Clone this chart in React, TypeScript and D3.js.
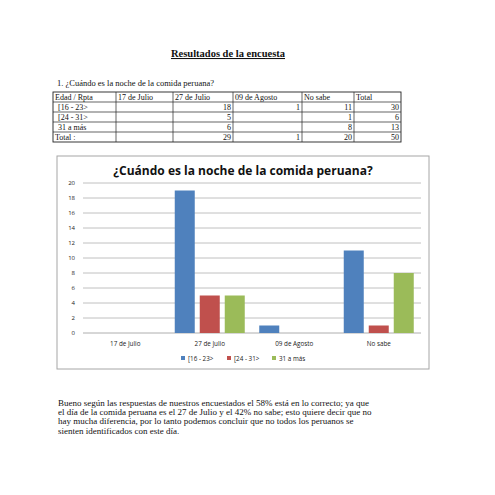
import { useRef, useEffect } from 'react';
import * as d3 from 'd3';

const categories = ['17 de Julio', '27 de Julio', '09 de Agosto', 'No sabe'];
const seriesNames = ['[16 - 23>', '[24 - 31>', '31 a más'];
const seriesColors = ['#4f81bd', '#c0504d', '#9bbb59'];
const values16to23 = [0, 19, 1, 11];
const values24to31 = [0, 5, 0, 1];
const values31plus = [0, 5, 0, 8];
const yTicks = [0, 2, 4, 6, 8, 10, 12, 14, 16, 18, 20];

const tableHeader = ['Edad / Rpta', '17 de Julio', '27 de Julio', '09 de Agosto', 'No sabe', 'Total'];
const tableRows = [
  ['[16 - 23>', '', '18', '1', '11', '30'],
  ['[24 - 31>', '', '5', '', '1', '6'],
  ['31 a más', '', '6', '', '8', '13'],
  ['Total :', '', '29', '1', '20', '50'],
];
const tableCols = [53, 116, 173, 233, 302, 354, 401];

const paragraph = [
  'Bueno según las respuestas de nuestros encuestados el 58% está en lo correcto; ya que',
  'el día de la comida peruana es el 27 de Julio y el 42% no sabe; esto quiere decir que no',
  'hay mucha diferencia, por lo tanto podemos concluir que no todos los peruanos se',
  'sienten identificados con este día.',
];

const W = 495;
const H = 495;
const SERIF = '"Liberation Serif", "Times New Roman", serif';
const SANS = '"Open Sans", "DejaVu Sans", sans-serif';

// chart box + plot area
const BOX = { x: 57, y: 156, w: 372, h: 213 };
const P = { left: 83, right: 421, top: 183, bottom: 333 };

export default function App() {
  const svgRef = useRef<SVGSVGElement>(null);

  useEffect(() => {
    const svg = d3.select(svgRef.current);
    svg.selectAll('*').remove();

    svg.append('rect').attr('width', W).attr('height', H).attr('fill', '#ffffff');

    // Page title (underlined)
    svg
      .append('text')
      .attr('x', 228)
      .attr('y', 57)
      .attr('text-anchor', 'middle')
      .attr('font-family', SERIF)
      .attr('font-size', 10.5)
      .attr('font-weight', 700)
      .attr('fill', '#111')
      .attr('text-decoration', 'underline')
      .text('Resultados de la encuesta');

    svg
      .append('text')
      .attr('x', 57)
      .attr('y', 86)
      .attr('font-family', SERIF)
      .attr('font-size', 8.5)
      .attr('fill', '#111')
      .text('1. ¿Cuándo es la noche de la comida peruana?');

    // Table
    const rowH = 10;
    const tTop = 92;
    const allRows = [tableHeader, ...tableRows];
    const tBottom = tTop + rowH * allRows.length;
    svg
      .append('rect')
      .attr('x', tableCols[0])
      .attr('y', tTop)
      .attr('width', tableCols[tableCols.length - 1] - tableCols[0])
      .attr('height', tBottom - tTop)
      .attr('fill', 'none')
      .attr('stroke', '#222')
      .attr('stroke-width', 0.9);
    allRows.forEach((_, i) => {
      if (i === 0) return;
      svg
        .append('line')
        .attr('x1', tableCols[0])
        .attr('x2', tableCols[tableCols.length - 1])
        .attr('y1', tTop + i * rowH)
        .attr('y2', tTop + i * rowH)
        .attr('stroke', '#222')
        .attr('stroke-width', 0.7);
    });
    tableCols.slice(1, -1).forEach((cx) => {
      svg
        .append('line')
        .attr('x1', cx)
        .attr('x2', cx)
        .attr('y1', tTop)
        .attr('y2', tBottom)
        .attr('stroke', '#222')
        .attr('stroke-width', 0.7);
    });
    allRows.forEach((row, i) => {
      row.forEach((cell, j) => {
        if (!cell) return;
        const right = i > 0 && j > 0;
        const indent = i > 0 && i < allRows.length - 1 && j === 0 ? 5 : 2;
        svg
          .append('text')
          .attr('x', right ? tableCols[j + 1] - 2 : tableCols[j] + indent)
          .attr('y', tTop + i * rowH + 7.8)
          .attr('text-anchor', right ? 'end' : 'start')
          .attr('font-family', SERIF)
          .attr('font-size', 8)
          .attr('fill', '#111')
          .text(cell);
      });
    });

    // Chart box
    svg
      .append('rect')
      .attr('x', BOX.x)
      .attr('y', BOX.y)
      .attr('width', BOX.w)
      .attr('height', BOX.h)
      .attr('fill', '#fff')
      .attr('stroke', '#a6a6a6')
      .attr('stroke-width', 1);

    svg
      .append('text')
      .attr('x', BOX.x + BOX.w / 2)
      .attr('y', 175)
      .attr('text-anchor', 'middle')
      .attr('font-family', SANS)
      .attr('font-size', 12)
      .attr('font-weight', 700)
      .attr('fill', '#111')
      .text('¿Cuándo es la noche de la comida peruana?');

    const y = d3.scaleLinear().domain([0, 20]).range([P.bottom, P.top]);
    const x0 = d3.scaleBand().domain(categories).range([P.left, P.right]);
    const x1 = d3
      .scaleBand()
      .domain(seriesNames)
      .range([7.25, x0.bandwidth() - 7.25])
      .paddingInner(0.2);

    yTicks.forEach((t) => {
      svg
        .append('line')
        .attr('x1', P.left)
        .attr('x2', P.right)
        .attr('y1', y(t))
        .attr('y2', y(t))
        .attr('stroke', t === 0 ? '#9a9a9a' : '#b0b0b0')
        .attr('stroke-width', 0.8);
      svg
        .append('text')
        .attr('x', 75)
        .attr('y', y(t) + 2)
        .attr('text-anchor', 'end')
        .attr('font-family', SANS)
        .attr('font-size', 6)
        .attr('fill', '#222')
        .text(t);
    });

    const seriesValues = [values16to23, values24to31, values31plus];
    seriesValues.forEach((vals, s) => {
      vals.forEach((v, c) => {
        if (!v) return;
        svg
          .append('rect')
          .attr('x', x0(categories[c])! + x1(seriesNames[s])!)
          .attr('y', y(v))
          .attr('width', x1.bandwidth())
          .attr('height', y(0) - y(v))
          .attr('fill', seriesColors[s]);
      });
    });

    categories.forEach((c) => {
      svg
        .append('text')
        .attr('x', x0(c)! + x0.bandwidth() / 2)
        .attr('y', 346)
        .attr('text-anchor', 'middle')
        .attr('font-family', SANS)
        .attr('font-size', 6.3)
        .attr('fill', '#222')
        .text(c);
    });

    // Legend
    const legendX = [181, 227, 272];
    seriesNames.forEach((name, i) => {
      svg
        .append('rect')
        .attr('x', legendX[i])
        .attr('y', 356)
        .attr('width', 4)
        .attr('height', 4)
        .attr('fill', seriesColors[i]);
      svg
        .append('text')
        .attr('x', legendX[i] + 7)
        .attr('y', 360.5)
        .attr('font-family', SANS)
        .attr('font-size', 6.3)
        .attr('fill', '#222')
        .text(name);
    });

    // Closing paragraph
    paragraph.forEach((line, i) => {
      svg
        .append('text')
        .attr('x', 58)
        .attr('y', 406 + i * 9.2)
        .attr('font-family', SERIF)
        .attr('font-size', 9)
        .attr('fill', '#111')
        .text(line);
    });
  }, []);

  return (
    <svg
      ref={svgRef}
      width={W}
      height={H}
      style={{ position: 'absolute', left: 0, top: 0 }}
    />
  );
}
